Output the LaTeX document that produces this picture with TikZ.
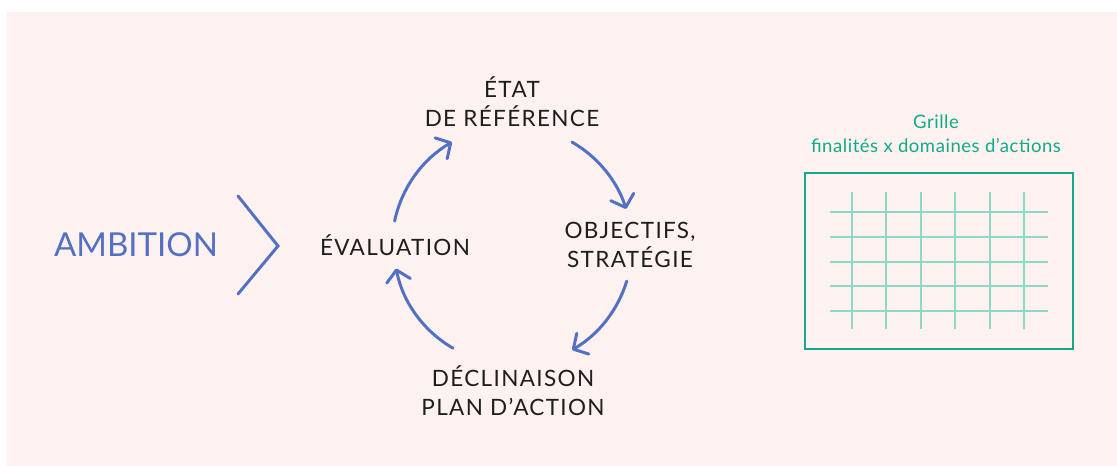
\documentclass[tikz,border=0pt]{standalone}
\usepackage{fontspec}
\setmainfont{Lato}
\usetikzlibrary{arrows.meta}
\definecolor{bgpink}{HTML}{FDF2F0}
\definecolor{cycblue}{HTML}{5470C2}
\definecolor{txtdark}{HTML}{1E1E1E}
\definecolor{gridgreen}{HTML}{12A98A}
\definecolor{gridlight}{HTML}{8ED9C6}

\begin{document}
\begin{tikzpicture}[
    x=1pt, y=-1pt,
    step label/.style={text=txtdark, align=center, inner sep=0pt,
        font=\fontsize{22.5}{29}\selectfont\addfontfeatures{LetterSpace=6}},
    flow/.style={cycblue, line width=3pt, line cap=round,
        -{Straight Barb[length=11pt, width=24pt, line width=3pt, round]}},
    chevron/.style={cycblue, line width=3pt, line cap=round, line join=miter},
    frame/.style={draw=gridgreen, line width=2pt},
    gridline/.style={gridlight, line width=2pt}
]
    \useasboundingbox (0,0) rectangle (1117,466);
    \fill[bgpink] (7,12) rectangle (1117,466);

    % left part
    \node[text=cycblue, inner sep=0pt, font=\fontsize{33}{36}\selectfont]
        (ambition) at (136,245) {AMBITION};
    \coordinate (chev) at (278,246);
    \draw[chevron] ([shift={(-40,-50)}]chev) -- (chev) -- ([shift={(-40,48)}]chev);

    % cycle
    \coordinate (hub) at (512,246);
    \node[step label] (etat) at (512,102) {ÉTAT\\DE RÉFÉRENCE};
    \node[step label] (objectifs) at (630,245) {OBJECTIFS,\\STRATÉGIE};
    \node[step label] (declinaison) at (513,391) {DÉCLINAISON\\PLAN D’ACTION};
    \node[step label] (evaluation) at (395,245) {ÉVALUATION};
    \draw[flow] ([shift={(-168:120)}]hub) arc[start angle=-168, end angle=-120, radius=120];
    \draw[flow] ([shift={(-60:120)}]hub) arc[start angle=-60, end angle=-18, radius=120];
    \draw[flow] ([shift={(17:120)}]hub) arc[start angle=17, end angle=60, radius=120];
    \draw[flow] ([shift={(120:118)}]hub) arc[start angle=120, end angle=169, radius=118];

    % grid
    \node[text=gridgreen, align=center, inner sep=0pt,
        font=\fontsize{18.5}{24}\selectfont\addfontfeatures{LetterSpace=3}]
        (grille) at (936,134) {Grille\\finalités x domaines d’actions};
    \draw[frame] (805,173) rectangle (1073,349);
    \foreach \gy in {212,237,262,286,311}
        \draw[gridline] (830,\gy) -- (1048,\gy);
    \foreach \gx in {852,886,921,955,990,1024}
        \draw[gridline] (\gx,192) -- (\gx,329);
\end{tikzpicture}
\end{document}
